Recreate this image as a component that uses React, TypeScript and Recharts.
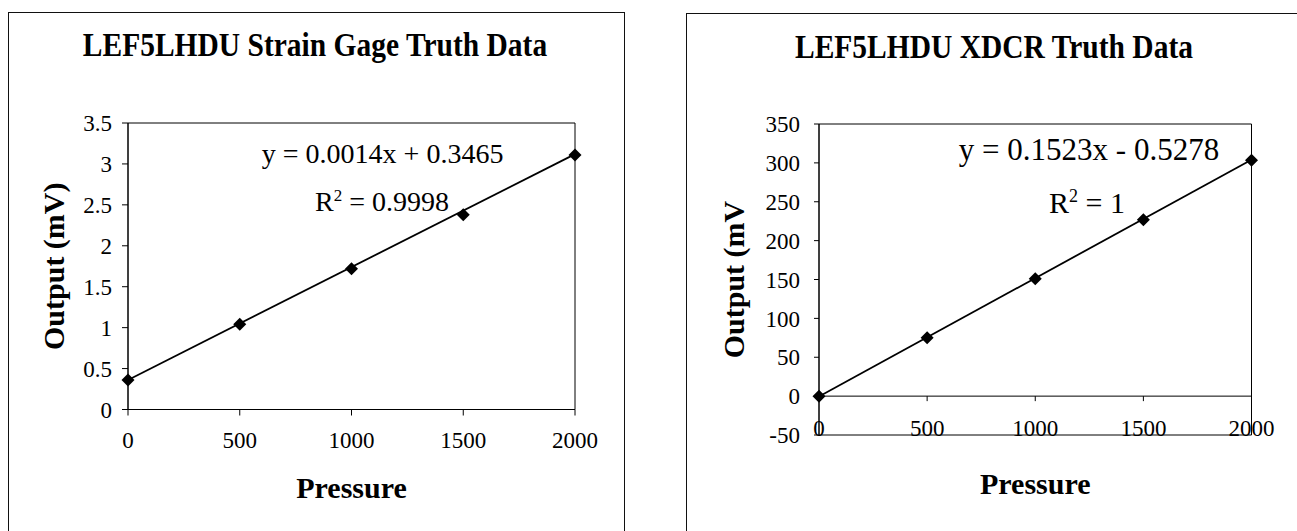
import React from 'react';
import { ComposedChart, Line, Scatter, XAxis, YAxis, ReferenceArea, ReferenceLine, Label } from 'recharts';

const pressure = [0, 500, 1000, 1500, 2000];
const gageOutput = [0.36, 1.04, 1.72, 2.38, 3.11];
const xdcrOutput = [0, 75, 151, 227, 303.5];

const trendPressure = [0, 2000];
const gageTrend = [0.36, 3.12];
const xdcrTrend = [-0.5, 304];

const pressureTicks = [0, 500, 1000, 1500, 2000];
const gageTicks = [0, 0.5, 1, 1.5, 2, 2.5, 3, 3.5];
const xdcrTicks = [-50, 0, 50, 100, 150, 200, 250, 300, 350];

const gagePoints = pressure.map((x, i) => ({ x, y: gageOutput[i] }));
const xdcrPoints = pressure.map((x, i) => ({ x, y: xdcrOutput[i] }));
const gageLine = trendPressure.map((x, i) => ({ x, y: gageTrend[i] }));
const xdcrLine = trendPressure.map((x, i) => ({ x, y: xdcrTrend[i] }));

const serif = '"Liberation Serif", "Times New Roman", serif';
const tickStyle = { fill: '#000', fontSize: 23, fontFamily: serif };
const axisLabelStyle = { fill: '#000', fontSize: 30, fontWeight: 'bold', fontFamily: serif };

// right chart layout, needed to put the x ticks on the zero line
const R_TOP = 124;
const R_XAXIS_H = 96;
const R_H = 531;
const R_PLOT_H = R_H - R_TOP - R_XAXIS_H;
const R_ZERO_OFF = (R_PLOT_H * (0 - -50)) / (350 - -50);

const Diamond = (props: any) => {
  const { cx, cy } = props;
  if (cx == null || cy == null) return null;
  const s = 6.5;
  return <polygon points={`${cx},${cy - s} ${cx + s},${cy} ${cx},${cy + s} ${cx - s},${cy}`} fill="#000" />;
};

const ZeroAxisTick = (props: any) => {
  const { x, y, payload } = props;
  const y0 = y - R_ZERO_OFF;
  return (
    <g>
      <line x1={x} x2={x} y1={y0} y2={y0 + 5} stroke="#000" />
      <text x={x} y={y0 + 40} textAnchor="middle" fill="#000" fontSize={23} fontFamily={serif}>
        {payload.value}
      </text>
    </g>
  );
};

const box = (left: number, top: number, width: number, right: boolean): React.CSSProperties => ({
  position: 'absolute',
  left,
  top,
  width,
  height: 560,
  borderLeft: '1px solid #111',
  borderTop: '1px solid #111',
  borderRight: right ? '1px solid #111' : 'none',
});

const title: React.CSSProperties = {
  position: 'absolute',
  fontFamily: serif,
  fontWeight: 'bold',
  fontSize: 29.5,
  lineHeight: '30px',
  textAlign: 'center',
  whiteSpace: 'nowrap',
  color: '#000',
  transform: 'scaleY(1.15)',
};

const eq = (size: number): React.CSSProperties => ({
  position: 'absolute',
  fontFamily: serif,
  fontSize: size,
  lineHeight: `${size}px`,
  textAlign: 'center',
  whiteSpace: 'nowrap',
  color: '#000',
});

export default function App() {
  return (
    <div
      style={{
        position: 'absolute',
        left: 0,
        top: 0,
        width: 1297,
        height: 531,
        background: '#fff',
        overflow: 'hidden',
        fontFamily: serif,
      }}
    >
      <div style={box(8, 12, 615, true)} />
      <div style={box(686, 13, 700, false)} />

      <div style={{ ...title, left: 15, top: 29, width: 600 }}>LEF5LHDU Strain Gage Truth Data</div>
      <div style={{ ...title, left: 694, top: 31, width: 600 }}>LEF5LHDU XDCR Truth Data</div>

      <div style={{ position: 'absolute', left: 0, top: 0 }}>
        <ComposedChart width={640} height={531} margin={{ top: 123, right: 65, left: 0, bottom: 0 }}>
          <XAxis
            dataKey="x"
            type="number"
            domain={[0, 2000]}
            ticks={pressureTicks}
            interval={0}
            height={121.5}
            tick={tickStyle}
            tickSize={6}
            tickMargin={16}
            axisLine={{ stroke: '#000' }}
            tickLine={{ stroke: '#000' }}
          >
            <Label value="Pressure" position="insideBottom" offset={33} style={axisLabelStyle} />
          </XAxis>
          <YAxis
            dataKey="y"
            type="number"
            domain={[0, 3.5]}
            ticks={gageTicks}
            interval={0}
            width={128}
            tick={tickStyle}
            tickSize={6}
            tickMargin={10}
            axisLine={{ stroke: '#000' }}
            tickLine={{ stroke: '#000' }}
          >
            <Label
              value="Output (mV)"
              angle={-90}
              position="insideLeft"
              offset={53}
              style={{ ...axisLabelStyle, textAnchor: 'middle' }}
            />
          </YAxis>
          <ReferenceArea x1={0} x2={2000} y1={0} y2={3.5} fill="none" stroke="#000" strokeWidth={1} />
          <Line
            data={gageLine}
            dataKey="y"
            stroke="#000"
            strokeWidth={1.8}
            dot={false}
            activeDot={false}
            isAnimationActive={false}
          />
          <Scatter data={gagePoints} dataKey="y" shape={<Diamond />} isAnimationActive={false} />
        </ComposedChart>
      </div>

      <div style={{ position: 'absolute', left: 650, top: 0 }}>
        <ComposedChart width={647} height={R_H} margin={{ top: R_TOP, right: 45.5, left: 0, bottom: 0 }}>
          <XAxis
            dataKey="x"
            type="number"
            domain={[0, 2000]}
            ticks={pressureTicks}
            interval={0}
            height={R_XAXIS_H}
            tick={<ZeroAxisTick />}
            tickSize={0}
            tickMargin={0}
            axisLine={false}
            tickLine={false}
          >
            <Label value="Pressure" position="insideBottom" offset={37} style={axisLabelStyle} />
          </XAxis>
          <YAxis
            dataKey="y"
            type="number"
            domain={[-50, 350]}
            ticks={xdcrTicks}
            interval={0}
            width={169}
            tick={tickStyle}
            tickSize={5}
            tickMargin={14}
            axisLine={{ stroke: '#000' }}
            tickLine={{ stroke: '#000' }}
          >
            <Label
              value="Output (mV"
              angle={-90}
              position="insideLeft"
              offset={83}
              style={{ ...axisLabelStyle, textAnchor: 'middle' }}
            />
          </YAxis>
          <ReferenceArea x1={0} x2={2000} y1={-50} y2={350} fill="none" stroke="#000" strokeWidth={1} />
          <ReferenceLine y={0} stroke="#000" strokeWidth={1} />
          <Line
            data={xdcrLine}
            dataKey="y"
            stroke="#000"
            strokeWidth={1.8}
            dot={false}
            activeDot={false}
            isAnimationActive={false}
          />
          <Scatter data={xdcrPoints} dataKey="y" shape={<Diamond />} isAnimationActive={false} />
        </ComposedChart>
      </div>

      <div style={{ ...eq(28), left: 182.6, top: 140, width: 400 }}>y = 0.0014x + 0.3465</div>
      <div style={{ ...eq(28), left: 182, top: 182, width: 400 }}>
        R<sup style={{ fontSize: 17 }}>2</sup> = 0.9998
      </div>
      <div style={{ ...eq(31), left: 889, top: 133.5, width: 400 }}>y = 0.1523x - 0.5278</div>
      <div style={{ ...eq(30), left: 887, top: 181, width: 400 }}>
        R<sup style={{ fontSize: 18 }}>2</sup> = 1
      </div>
    </div>
  );
}
